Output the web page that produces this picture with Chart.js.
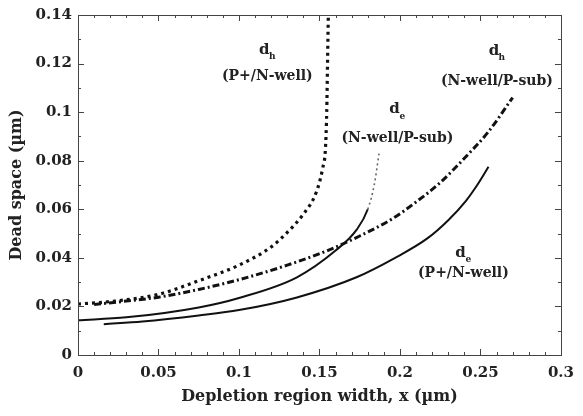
<!DOCTYPE html>
<html>
<head>
<meta charset="utf-8">
<script src="https://cdn.jsdelivr.net/npm/chart.js@4/dist/chart.umd.min.js"></script>
<style>
  html, body { margin: 0; padding: 0; background: #fff; }
  #wrap { width: 583px; height: 416px; }
</style>
</head>
<body>
<div id="wrap"><canvas id="deadChart" width="583" height="416"></canvas></div>
<script>
// valeurs (x et dead space en µm)
const dhPnX = [0, 0.02, 0.05, 0.075, 0.1, 0.12, 0.13, 0.14, 0.148, 0.152, 0.1537, 0.1545, 0.155, 0.1555];
const dhPnY = [0.021, 0.022, 0.025, 0.0306, 0.037, 0.0445, 0.0505, 0.058, 0.067, 0.077, 0.085, 0.1, 0.12, 0.14];

const dhNpX = [0.01, 0.03, 0.05, 0.075, 0.1, 0.13, 0.155, 0.175, 0.195, 0.21, 0.225, 0.24, 0.255, 0.27];
const dhNpY = [0.0208, 0.0222, 0.0238, 0.027, 0.031, 0.037, 0.043, 0.049, 0.056, 0.063, 0.071, 0.081, 0.092, 0.106];

const deNpX = [0, 0.03, 0.075, 0.1, 0.136, 0.16, 0.173, 0.18, 0.184, 0.187];
const deNpY = [0.0143, 0.0155, 0.0196, 0.0235, 0.032, 0.043, 0.0515, 0.06, 0.07, 0.083];

const dePnX = [0.016, 0.04, 0.075, 0.1, 0.136, 0.173, 0.197, 0.217, 0.23, 0.241, 0.248, 0.255];
const dePnY = [0.0127, 0.0138, 0.0163, 0.0185, 0.0237, 0.032, 0.040, 0.048, 0.0555, 0.0635, 0.07, 0.0775];

const xTickLabels = ['0', '0.05', '0.1', '0.15', '0.2', '0.25', '0.3'];
const yTickLabels = ['0', '0.02', '0.04', '0.06', '0.08', '0.1', '0.12', '0.14'];

// étiquettes des courbes : [sous-indice, texte, x, y du "d", y du texte] en unités des axes
const curveNotes = [
  ['h', '(P+/N-well)', 0.1176, 0.1257, 0.1147],
  ['e', '(N-well/P-sub)', 0.1984, 0.1012, 0.089],
  ['h', '(N-well/P-sub)', 0.2602, 0.1253, 0.1127],
  ['e', '(P+/N-well)', 0.2394, 0.042, 0.0335]
];

const pts = (xs, ys) => xs.map((v, i) => ({ x: v, y: ys[i] }));
const FONT = 'DejaVu Serif';

const frame = {
  id: 'frame',
  afterDraw(chart) {
    const { ctx, chartArea: a, scales: { x, y } } = chart;
    ctx.save();
    ctx.strokeStyle = '#444';
    ctx.lineWidth = 1;
    ctx.strokeRect(Math.round(a.left) + 0.5, Math.round(a.top) + 0.5, Math.round(a.width), Math.round(a.height));
    ctx.beginPath();
    x.ticks.forEach(t => {
      const px = Math.round(x.getPixelForValue(t.value)) + 0.5;
      const len = Math.round(t.value * 100) % 5 === 0 ? 6 : 3;
      ctx.moveTo(px, a.bottom); ctx.lineTo(px, a.bottom - len);
      ctx.moveTo(px, a.top); ctx.lineTo(px, a.top + len);
    });
    y.ticks.forEach(t => {
      const py = Math.round(y.getPixelForValue(t.value)) + 0.5;
      const len = Math.round(t.value * 100) % 2 === 0 ? 6 : 3;
      ctx.moveTo(a.left, py); ctx.lineTo(a.left + len, py);
      ctx.moveTo(a.right, py); ctx.lineTo(a.right - len, py);
    });
    ctx.stroke();

    // notes
    ctx.fillStyle = '#222';
    ctx.textAlign = 'center';
    ctx.textBaseline = 'middle';
    curveNotes.forEach(n => {
      const cx = x.getPixelForValue(n[2]);
      ctx.font = 'bold 15px ' + FONT;
      ctx.fillText('d', cx - 3, y.getPixelForValue(n[3]));
      ctx.font = 'bold 9px ' + FONT;
      ctx.fillText(n[0], cx + 5, y.getPixelForValue(n[3]) + 7);
      ctx.font = 'bold 14px ' + FONT;
      ctx.fillText(n[1], cx, y.getPixelForValue(n[4]));
    });
    ctx.restore();
  }
};

const ctx = document.getElementById('deadChart').getContext('2d');
new Chart(ctx, {
  type: 'line',
  data: {
    datasets: [
      { data: pts(dhPnX, dhPnY), borderColor: '#111', borderWidth: 3.2, borderDash: [3, 4], borderCapStyle: 'butt' },
      { data: pts(dhNpX, dhNpY), borderColor: '#111', borderWidth: 3, borderDash: [7, 3, 2, 3], borderCapStyle: 'butt' },
      {
        data: pts(deNpX, deNpY), borderColor: '#111', borderWidth: 2,
        segment: {
          borderDash: c => c.p0.parsed.y >= 0.055 ? [2, 3] : undefined,
          borderColor: c => c.p0.parsed.y >= 0.055 ? '#666' : undefined,
          borderWidth: c => c.p0.parsed.y >= 0.055 ? 1.6 : undefined
        }
      },
      { data: pts(dePnX, dePnY), borderColor: '#111', borderWidth: 2 }
    ]
  },
  options: {
    responsive: false,
    animation: false,
    events: [],
    layout: { padding: { top: 12, right: 15, left: 0, bottom: 0 } },
    elements: { point: { radius: 0 }, line: { tension: 0.4, cubicInterpolationMode: 'monotone', fill: false } },
    plugins: { legend: { display: false }, tooltip: { enabled: false } },
    scales: {
      x: {
        type: 'linear', min: 0, max: 0.3,
        grid: { display: false, tickLength: 0 }, border: { display: false },
        ticks: {
          stepSize: 0.01, autoSkip: false, maxRotation: 0, padding: 9,
          color: '#222', font: { family: FONT, size: 15, weight: 'bold' },
          callback: v => { const k = Math.round(v * 100); return k % 5 === 0 ? xTickLabels[k / 5] : ''; }
        },
        title: { display: true, text: 'Depletion region width, x (µm)', color: '#222', padding: { top: 0, bottom: 10 },
                 font: { family: FONT, size: 16, weight: 'bold' } },
        afterFit: s => { s.height = 61; }
      },
      y: {
        type: 'linear', min: 0, max: 0.14,
        grid: { display: false, tickLength: 0 }, border: { display: false },
        ticks: {
          stepSize: 0.01, autoSkip: false, padding: 6,
          color: '#222', font: { family: FONT, size: 15, weight: 'bold' },
          callback: v => { const k = Math.round(v * 100); return k % 2 === 0 ? yTickLabels[k / 2] : ''; }
        },
        title: { display: true, text: 'Dead space (µm)', color: '#222', padding: { top: 7, bottom: 0 },
                 font: { family: FONT, size: 16, weight: 'bold' } },
        afterFit: s => { s.width = 78; }
      }
    }
  },
  plugins: [frame]
});
</script>
</body>
</html>
